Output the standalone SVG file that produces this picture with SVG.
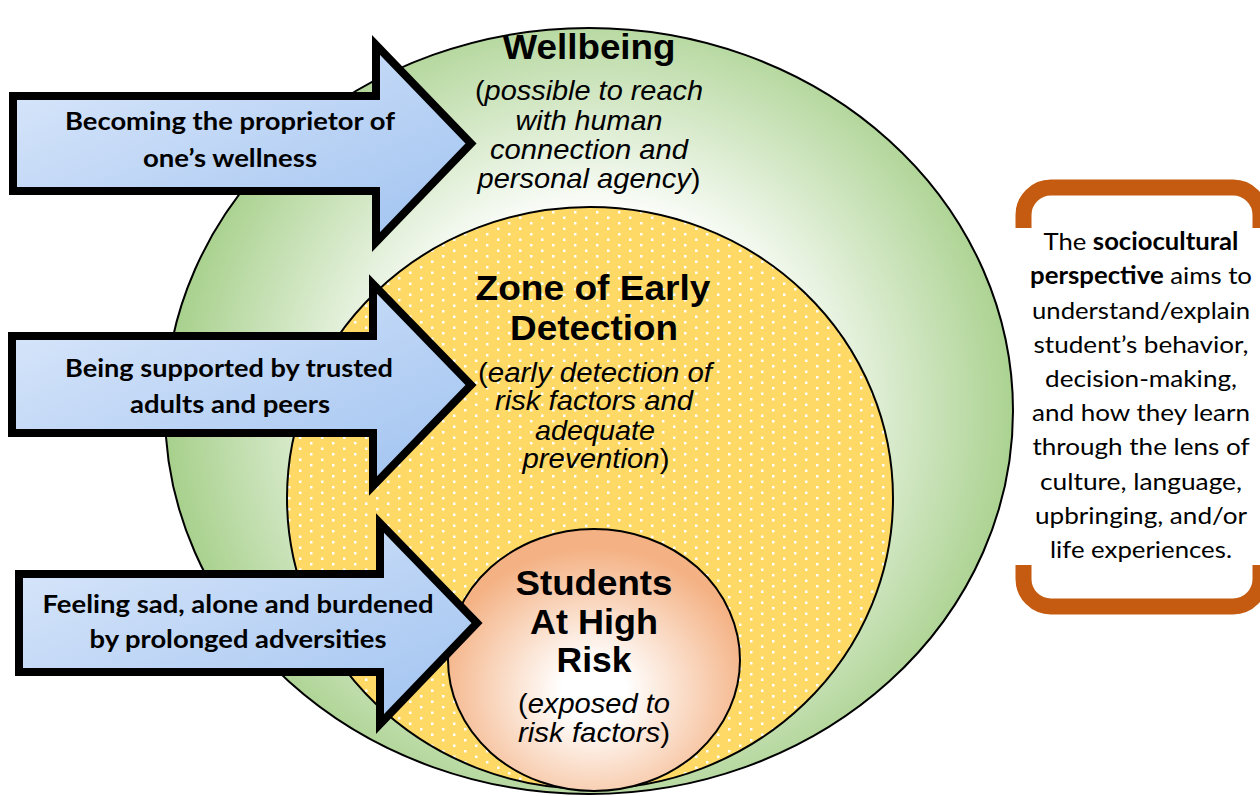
<svg xmlns="http://www.w3.org/2000/svg" width="1260" height="796" viewBox="0 0 1260 796">
<defs>
<radialGradient id="gGreen" gradientUnits="userSpaceOnUse" cx="595" cy="410" r="425">
<stop offset="0.45" stop-color="#ffffff"/>
<stop offset="1" stop-color="#a9d18e"/>
</radialGradient>
<radialGradient id="gSalmon" cx="0.5" cy="0.62" r="0.55">
<stop offset="0.2" stop-color="#ffffff"/>
<stop offset="1" stop-color="#f4b183"/>
</radialGradient>
<linearGradient id="gBlue" x1="0" y1="0" x2="1" y2="1">
<stop offset="0" stop-color="#dde9fb"/>
<stop offset="1" stop-color="#9fc2f0"/>
</linearGradient>
<pattern id="dots" patternUnits="userSpaceOnUse" width="22" height="11">
<rect width="22" height="11" fill="#ffd966"/>
<rect x="2" y="2" width="2.5" height="2.5" fill="#ffffff"/>
<rect x="13" y="7.5" width="2.5" height="2.5" fill="#ffffff"/>
</pattern>
</defs>
<style>
.ring{stroke:#000;stroke-width:2}
.title{font-family:"Liberation Sans",Arial,sans-serif;font-weight:bold;font-size:35px;fill:#000;text-anchor:middle}
.sub{font-family:"Liberation Sans",Arial,sans-serif;font-style:italic;font-size:27.5px;fill:#000;text-anchor:middle}
.up{font-style:normal}
.arrow{fill:url(#gBlue);stroke:#000;stroke-width:8;stroke-linejoin:miter;stroke-miterlimit:10}
.alabel{font-family:Lato,"Open Sans",sans-serif;font-weight:bold;font-size:25px;fill:#000;text-anchor:middle}
.brk{fill:none;stroke:#c55a11;stroke-width:16}
.ptext{font-family:Lato,"Open Sans",sans-serif;font-size:24px;fill:#000;text-anchor:middle}
.b{font-weight:bold}
</style>
<rect width="1260" height="796" fill="#ffffff"/>

<g id="node-wellbeing">
<ellipse class="ring" cx="589" cy="411" rx="424" ry="383" fill="url(#gGreen)"/>
<text class="title" x="589" y="59" textLength="173" lengthAdjust="spacingAndGlyphs">Wellbeing</text>
<text class="sub" x="589" y="100" textLength="228" lengthAdjust="spacingAndGlyphs"><tspan class="up">(</tspan>possible to reach</text>
<text class="sub" x="589" y="130" textLength="147" lengthAdjust="spacingAndGlyphs">with human</text>
<text class="sub" x="589" y="159" textLength="198" lengthAdjust="spacingAndGlyphs">connection and</text>
<text class="sub" x="589" y="188" textLength="223" lengthAdjust="spacingAndGlyphs">personal agency<tspan class="up">)</tspan></text>
</g>

<g id="node-zone">
<ellipse class="ring" cx="590" cy="498" rx="303" ry="291" fill="url(#dots)"/>
<text class="title" x="593" y="300" textLength="235" lengthAdjust="spacingAndGlyphs">Zone of Early</text>
<text class="title" x="594" y="340" textLength="168" lengthAdjust="spacingAndGlyphs">Detection</text>
<text class="sub" x="595" y="382" textLength="234" lengthAdjust="spacingAndGlyphs"><tspan class="up">(</tspan>early detection of</text>
<text class="sub" x="594" y="410" textLength="198" lengthAdjust="spacingAndGlyphs">risk factors and</text>
<text class="sub" x="595" y="440" textLength="120" lengthAdjust="spacingAndGlyphs">adequate</text>
<text class="sub" x="596" y="468" textLength="147" lengthAdjust="spacingAndGlyphs">prevention<tspan class="up">)</tspan></text>
</g>

<g id="node-risk">
<ellipse class="ring" cx="594" cy="660" rx="146" ry="131" fill="url(#gSalmon)"/>
<text class="title" x="594" y="595" textLength="157" lengthAdjust="spacingAndGlyphs">Students</text>
<text class="title" x="594" y="634" textLength="128" lengthAdjust="spacingAndGlyphs">At High</text>
<text class="title" x="594" y="672" textLength="75" lengthAdjust="spacingAndGlyphs">Risk</text>
<text class="sub" x="594" y="713" textLength="152" lengthAdjust="spacingAndGlyphs"><tspan class="up">(</tspan>exposed to</text>
<text class="sub" x="594" y="742" textLength="152" lengthAdjust="spacingAndGlyphs">risk factors<tspan class="up">)</tspan></text>
</g>

<g id="connectors">
<g id="arrow-proprietor">
<path class="arrow" d="M13,96 H376 V45 L471,143.5 L376,242 V191 H13 Z"/>
<text class="alabel" x="230" y="130" textLength="330" lengthAdjust="spacingAndGlyphs">Becoming the proprietor of</text>
<text class="alabel" x="230" y="167" textLength="174" lengthAdjust="spacingAndGlyphs">one’s wellness</text>
</g>
<g id="arrow-supported">
<path class="arrow" d="M12,336 H373 V284 L471,385 L373,486 V433 H12 Z"/>
<text class="alabel" x="229" y="377" textLength="328" lengthAdjust="spacingAndGlyphs">Being supported by trusted</text>
<text class="alabel" x="230" y="413" textLength="200" lengthAdjust="spacingAndGlyphs">adults and peers</text>
</g>
<g id="arrow-sad">
<path class="arrow" d="M19,574 H380 V523 L477,623 L380,724 V672 H19 Z"/>
<text class="alabel" x="238" y="613" textLength="391" lengthAdjust="spacingAndGlyphs">Feeling sad, alone and burdened</text>
<text class="alabel" x="238" y="648" textLength="297" lengthAdjust="spacingAndGlyphs">by prolonged adversities</text>
</g>
</g>

<g id="node-perspective">
<path class="brk" d="M1023.5,228 V215 A27.5,27.5 0 0 1 1051,187.5 H1233 A27.5,27.5 0 0 1 1260.5,215 V228"/>
<path class="brk" d="M1023.5,565 V579 A27.5,27.5 0 0 0 1051,606.5 H1233 A27.5,27.5 0 0 0 1260.5,579 V565"/>
<text class="ptext" x="1141" y="250" textLength="195" lengthAdjust="spacingAndGlyphs">The <tspan class="b">sociocultural</tspan></text>
<text class="ptext" x="1141" y="284" textLength="222" lengthAdjust="spacingAndGlyphs"><tspan class="b">perspective</tspan> aims to</text>
<text class="ptext" x="1141" y="318.5" textLength="218" lengthAdjust="spacingAndGlyphs">understand/explain</text>
<text class="ptext" x="1141" y="352.5" textLength="215" lengthAdjust="spacingAndGlyphs">student’s behavior,</text>
<text class="ptext" x="1141" y="387" textLength="192" lengthAdjust="spacingAndGlyphs">decision-making,</text>
<text class="ptext" x="1141" y="421" textLength="218" lengthAdjust="spacingAndGlyphs">and how they learn</text>
<text class="ptext" x="1141" y="455" textLength="217" lengthAdjust="spacingAndGlyphs">through the lens of</text>
<text class="ptext" x="1141" y="489.5" textLength="202" lengthAdjust="spacingAndGlyphs">culture, language,</text>
<text class="ptext" x="1141" y="523.5" textLength="212" lengthAdjust="spacingAndGlyphs">upbringing, and/or</text>
<text class="ptext" x="1141" y="558" textLength="182" lengthAdjust="spacingAndGlyphs">life experiences.</text>
</g>
</svg>
